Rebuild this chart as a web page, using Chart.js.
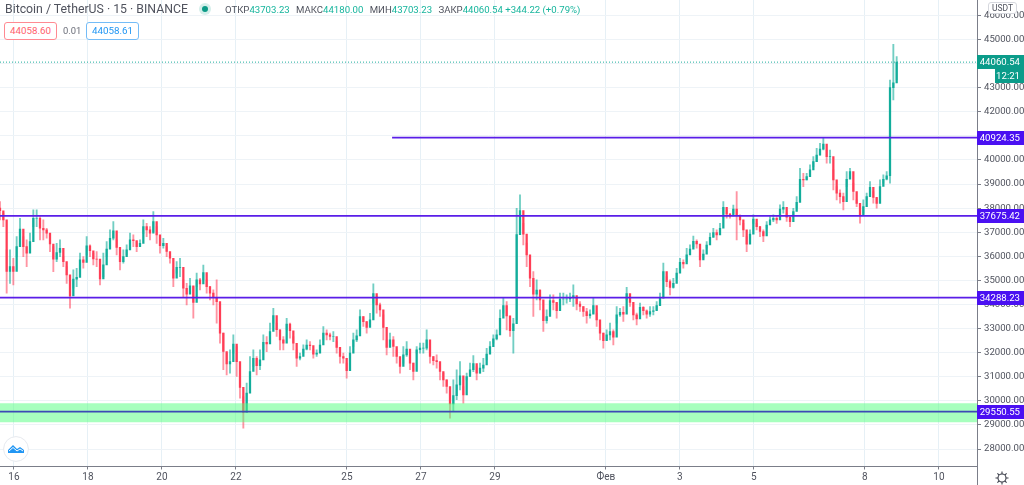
<!DOCTYPE html>
<html>
<head>
<meta charset="utf-8">
<script src="https://cdn.jsdelivr.net/npm/chart.js"></script>
<style>
  html, body { margin: 0; padding: 0; background: #fff; overflow: hidden; }
  #wrap { position: relative; width: 1024px; height: 485px; font-family: Roboto, sans-serif; }
  canvas { position: absolute; left: 0; top: 0; }
  .abs { position: absolute; white-space: nowrap; }
  #title { left: 5px; top: 2px; font-size: 12.3px; line-height: 15px; color: #50535e; }
  #dot { left: 202px; top: 6px; width: 6px; height: 6px; border-radius: 50%; background: #0c9a87; box-shadow: 0 0 0 3px #d5efeb; }
  #ohlc { left: 225px; top: 4px; font-size: 9.6px; line-height: 12px; color: #17b59d; }
  #ohlc b { font-weight: 400; color: #50535e; margin-left: 4px; }
  #ohlc b:first-child { margin-left: 0; }
  .quote { top: 22px; height: 16px; line-height: 16px; border-radius: 3px; font-size: 9.8px; text-align: center; background: #fff; }
  #bid { left: 4px; width: 51px; border: 1px solid #ff8a92; color: #ff5f6d; }
  #spread { left: 63px; top: 23px; font-size: 9.4px; color: #6a6d78; line-height: 16px; }
  #ask { left: 86px; width: 51px; border: 1px solid #74bcf7; color: #2196f3; }
  #unit { left: 988px; top: 2px; width: 27px; height: 10px; line-height: 10px; border: 1px solid #d6d8de; border-radius: 3px; background: #fff; font-size: 8.5px; text-align: center; color: #50535e; }
  #logo { left: 3px; top: 436px; }
  #gear { left: 995px; top: 471px; }
</style>
</head>
<body>
<div id="wrap">
  <canvas id="chart" width="1024" height="485"></canvas>
  <div class="abs" id="title">Bitcoin / TetherUS · 15 · BINANCE</div>
  <div class="abs" id="dot"></div>
  <div class="abs" id="ohlc"><b>ОТКР</b>43703.23 <b>МАКС</b>44180.00 <b>МИН</b>43703.23 <b>ЗАКР</b>44060.54 +344.22 (+0.79%)</div>
  <div class="abs quote" id="bid">44058.60</div>
  <div class="abs" id="spread">0.01</div>
  <div class="abs quote" id="ask">44058.61</div>
  <div class="abs" id="unit">USDT</div>
  <svg class="abs" id="logo" width="26" height="26" viewBox="0 0 26 26">
    <circle cx="13" cy="13" r="12.4" fill="#fff" stroke="#e6e9ee" stroke-width="1"/>
    <path d="M5 17 L5 14 L10 9 L14 13 L17 11 L21 14 L21 17 Z" fill="#2196f3"/>
    <path d="M6 15 L10 11.5 L14 15 L17 13 L20 15" fill="none" stroke="#fff" stroke-width="1"/>
  </svg>
  <svg class="abs" id="gear" width="14" height="14" viewBox="0 0 14 14">
    <circle cx="7" cy="7" r="4" fill="none" stroke="#3c3f4a" stroke-width="1.1"/>
    <path d="M7 0.5V3 M7 11V13.5 M0.5 7H3 M11 7H13.5 M2.4 2.4L4.2 4.2 M9.8 9.8L11.6 11.6 M2.4 11.6L4.2 9.8 M9.8 4.2L11.6 2.4" stroke="#3c3f4a" stroke-width="1.1"/>
  </svg>
</div>
<script>
// Candles, about two hours each
const firstCandleDay = -0.378;
const candleStepDays = 0.0901;
const firstOpen = 38000;

const candleHighs = [
  38270,37790,36265,36265,35920,36820,37580,36820,36680,36960,37925,37925,37650,37510,37165,36820,36405,36540,36680,35990,
  35575,34880,35435,35505,36130,35990,36820,36475,36130,36195,35300,36130,36610,37095,37440,36680,36130,36265,36475,36960,
  36890,36610,36680,37510,37370,37235,37855,37235,36750,36750,36405,36130,35435,35780,35920,35020,34880,35090,34745,35300,
  35090,35640,35020,34745,34605,35020,33225,32810,31980,32115,32740,32255,31010,30180,30735,31840,32115,31840,
  32115,32740,32670,33225,33845,33225,32945,32670,33430,33225,32670,32115,31980,32325,32530,32460,32115,32115,32530,33085,
  32945,32810,32875,32460,32115,31980,31565,32255,32810,32945,33775,33500,33290,33635,34855,34330,34055,33570,32530,32810,
  32670,32115,31700,32255,32460,31840,31565,32255,32395,32395,32945,32115,31840,31910,31565,31150,30870,30455,30870,31285,
  31630,30595,31150,31565,31880,31425,31565,31770,32185,32460,32740,32945,33775,34260,34120,33155,33430,37995,
  38550,37370,36545,35435,35365,35020,34605,33775,33775,34400,34400,34055,34470,34470,34400,34470,34815,34260,34120,33915,
  33845,33775,34260,33640,33085,32810,32945,33225,32945,33915,33845,33915,34715,34260,33775,33640,34055,33915,33775,33915,
  33915,34120,34470,35715,35160,35020,35090,35505,35920,35850,36335,36475,36845,36680,36130,36265,36610,36960,37165,37095,
  37370,38270,37925,37785,38130,38690,37720,37370,36820,37095,37720,37370,37235,37095,37440,37650,37720,37650,
  38135,38275,37790,37650,37995,38480,39655,39450,39450,39795,40140,40485,40690,40900,40415,40415,39585,38895,38755,38620,
  39520,39655,39035,38340,38065,38340,38620,39105,38690,38410,39170,39380,39520,43320,44800,44290
];
const candleLows = [
  37510,37230,34470,34880,34815,35990,36680,35990,35575,36265,37230,37230,36680,36680,36750,36195,35365,35780,35990,35575,
  34880,33845,34675,34745,35575,35505,36060,35990,35645,35575,34815,35160,35990,36405,36680,36060,35435,35715,36060,36405,
  36405,36195,36405,36955,36820,36680,37025,36540,36130,36335,35990,35715,34745,35300,35160,34330,33985,34470,33430,34745,
  34605,35020,34470,34190,33985,33225,32395,31290,31080,31150,31980,31010,30110,28865,29905,30595,31425,31080,
  31290,32115,32045,32530,33225,32670,32115,32115,32945,32600,32115,31425,31700,31980,32115,32115,31770,31840,32115,32530,
  32530,32530,32460,31980,31565,31565,30940,31700,32255,32460,33225,33085,32810,33085,34055,33640,33500,32530,31910,32255,
  31840,31565,31150,31565,31840,31290,30870,31980,31980,31980,32115,31565,31495,31355,30870,30595,30320,29280,29560,30045,
  30455,29905,30870,31010,31215,30870,31150,31215,31700,32045,32395,32530,33085,33640,32945,32670,31980,33360,
  37235,36475,35575,34745,33500,34190,33775,32880,33225,33915,33775,33430,33985,33985,34055,34120,33915,33775,33710,33500,
  33225,33430,33640,33085,32530,32190,32530,32530,32325,33225,33500,33295,34190,33915,33360,33155,33710,33570,33430,33500,
  33570,33775,34055,35020,34745,34400,34675,35090,35575,35505,35780,36130,36405,36335,35575,35920,36335,36610,36820,36680,
  36960,37785,37580,37580,37785,36680,37305,36820,36195,36750,37370,37095,36820,36610,37165,37370,37440,37370,
  37790,37790,37445,37235,37720,37995,38760,38895,39170,39380,39725,39930,40210,40415,39865,39865,38755,38340,38205,37925,
  38895,39380,38340,38065,37375,37790,38340,38620,38205,38000,38620,39035,39170,39035,42490,43320
];
const candleCloses = [
  37890,37510,35370,35570,35370,36400,37130,36400,36130,36610,37580,37580,37165,37095,36960,36510,35885,36160,36335,35780,
  35230,34360,35055,35125,35850,35750,36440,36230,35890,35885,35060,35645,36300,36750,37060,36370,35780,35990,36270,36680,
  36650,36400,36540,37230,37095,36960,37440,36890,36440,36540,36200,35920,35090,35540,35540,34675,34430,34780,34090,35020,
  34850,35330,34745,34470,34295,34120,32810,32050,31530,31630,32360,31630,30560,29520,30320,31220,31770,31460,
  31700,32430,32360,32880,33535,32950,32530,32390,33190,32910,32390,31770,31840,32150,32320,32290,31940,31980,32320,32810,
  32740,32670,32670,32220,31840,31770,31250,31980,32530,32700,33500,33290,33050,33360,34455,33985,33780,33050,32220,32530,
  32255,31840,31425,31910,32150,31565,31220,32120,32190,32190,32530,31840,31670,31630,31220,30870,30595,29870,30215,30665,
  31040,30250,31010,31290,31550,31150,31360,31490,31940,32250,32570,32740,33430,33950,33530,32910,33200,36900,
  37900,36920,36060,35090,34430,34600,34190,33330,33500,34160,34090,33740,34230,34230,34230,34300,34365,34020,33915,33710,
  33535,33600,33950,33360,32810,32500,32740,32880,32640,33570,33670,33600,34450,34090,33570,33400,33880,33740,33600,33710,
  33740,33950,34260,35370,34950,34710,34880,35300,35750,35680,36060,36300,36625,36510,35850,36090,36470,36785,36990,36890,
  37165,38030,37750,37680,37960,37700,37510,37100,36500,36920,37545,37230,37030,36850,37300,37510,37580,37510,
  37960,38030,37620,37440,37860,38240,39200,39170,39310,39590,39930,40200,40450,40660,40140,40140,39170,38620,38480,38270,
  39200,39520,38690,38200,37710,38065,38480,38860,38450,38200,38900,39200,39345,43000,43200,44060
];

// Axes
const priceTicks = [28000,29000,30000,31000,32000,33000,34000,35000,36000,37000,38000,39000,40000,41000,42000,43000,44000,45000,46000];
const dayTicks = [0,2,4,6,9,11,13,16,18,20,23,25];
const dayTickLabels = ['16','18','20','22','25','27','29','Фев','3','5','8','10'];
const axisMinDay = -0.378;
const axisMaxDay = 26.03;
const axisMinPrice = 27275;
const axisMaxPrice = 46640;

// Drawn levels and the zone
const levelPrices = [40924.35, 37675.42, 34288.23, 29550.55];
const levelLabels = ['40924.35', '37675.42', '34288.23', '29550.55'];
const levelStartDays = [10.22, axisMinDay, axisMinDay, axisMinDay];
const levelColors = ['#5a1ee8', '#5a1ee8', '#5a1ee8', '#3c49b6'];
const zoneTop = 29904;
const zoneBottom = 29116;
const lastPrice = 44060.54;
const lastPriceLabel = '44060.54';
const countdownLabel = '12:21';

const UP = '#12ad9b';
const DOWN = '#ff3d55';
const UP_WICK = 'rgba(18,173,155,0.6)';
const DOWN_WICK = 'rgba(255,61,85,0.55)';

const candleDays = candleCloses.map((_, i) => firstCandleDay + i * candleStepDays);
const candleOpens = candleCloses.map((_, i) => (i ? candleCloses[i - 1] : firstOpen));
const isUp = candleCloses.map((c, i) => c >= candleOpens[i]);

const axisTags = {
  id: 'axisTags',
  afterDraw(chart) {
    const { ctx, chartArea, scales } = chart;
    const tag = (text, price, color, left, dy) => {
      const y = Math.round(scales.y.getPixelForValue(price)) + dy;
      ctx.fillStyle = color;
      ctx.fillRect(left, y - 7, 1024 - left, 14);
      ctx.fillStyle = '#fff';
      ctx.font = '9.6px Roboto';
      ctx.textBaseline = 'middle';
      ctx.textAlign = 'right';
      ctx.fillText(text, 1020, y + 0.5);
    };
    ctx.save();
    // price axis runs down through the time axis row
    ctx.strokeStyle = '#7b7e89';
    ctx.lineWidth = 1;
    ctx.beginPath();
    ctx.moveTo(chartArea.right + 0.5, 0);
    ctx.lineTo(chartArea.right + 0.5, 485);
    ctx.stroke();
    levelPrices.forEach((p, i) => tag(levelLabels[i], p, '#4a10f2', chartArea.right, 0));
    tag(lastPriceLabel, lastPrice, '#0b9c8a', chartArea.right, 0);
    tag(countdownLabel, lastPrice, '#0b9c8a', 995, 14);
    ctx.restore();
  }
};

const levelDatasets = levelPrices.map((p, i) => ({
  type: 'line',
  data: [{ x: levelStartDays[i], y: p }, { x: axisMaxDay, y: p }],
  borderColor: levelColors[i],
  borderWidth: 1.8,
  pointRadius: 0,
  order: 1
}));

new Chart(document.getElementById('chart'), {
  data: {
    datasets: [
      {
        type: 'bar',
        data: candleDays.map((d, i) => ({ x: d, y: [candleLows[i], candleHighs[i]] })),
        backgroundColor: isUp.map(u => (u ? UP_WICK : DOWN_WICK)),
        barThickness: 1.2,
        grouped: false,
        order: 5
      },
      {
        type: 'bar',
        data: candleDays.map((d, i) => ({ x: d, y: [candleOpens[i], candleCloses[i]] })),
        backgroundColor: isUp.map(u => (u ? UP : DOWN)),
        barThickness: 1.6,
        grouped: false,
        order: 4
      },
      {
        type: 'line',
        data: [{ x: axisMinDay, y: zoneTop }, { x: axisMaxDay, y: zoneTop }],
        borderWidth: 0,
        pointRadius: 0,
        fill: { value: zoneBottom },
        backgroundColor: 'rgba(80,255,125,0.5)',
        order: 3
      },
      {
        type: 'line',
        data: [{ x: axisMinDay, y: lastPrice }, { x: axisMaxDay, y: lastPrice }],
        borderColor: '#1fae9c',
        borderWidth: 1,
        borderDash: [1, 2],
        pointRadius: 0,
        order: 2
      },
      ...levelDatasets
    ]
  },
  options: {
    responsive: false,
    animation: false,
    devicePixelRatio: 1,
    layout: { padding: 0 },
    plugins: { legend: { display: false }, tooltip: { enabled: false } },
    scales: {
      x: {
        type: 'linear',
        offset: false,
        min: axisMinDay,
        max: axisMaxDay,
        afterFit(scale) {
          scale.height = 18.5;
          scale.paddingLeft = 0;
          scale.paddingRight = 0;
        },
        afterBuildTicks(scale) { scale.ticks = dayTicks.map(value => ({ value })); },
        border: { color: '#7b7e89', width: 1 },
        grid: { offset: false, color: '#e6f0f6', tickColor: '#7b7e89', tickLength: 3 },
        ticks: {
          autoSkip: false,
          maxRotation: 0,
          padding: 2,
          color: '#50535e',
          font: { family: 'Roboto', size: 10 },
          callback: value => dayTickLabels[dayTicks.indexOf(value)]
        }
      },
      y: {
        type: 'linear',
        position: 'right',
        min: axisMinPrice,
        max: axisMaxPrice,
        afterFit(scale) {
          scale.width = 47;
          scale.paddingTop = 0;
          scale.paddingBottom = 0;
        },
        afterBuildTicks(scale) { scale.ticks = priceTicks.map(value => ({ value })); },
        border: { color: '#7b7e89', width: 1 },
        grid: { color: '#eef3f7', tickColor: '#7b7e89', tickLength: 4 },
        ticks: {
          padding: 3,
          color: '#50535e',
          font: { family: 'Roboto', size: 9.6 },
          callback: value => value.toFixed(2)
        }
      }
    }
  },
  plugins: [axisTags]
});
</script>
</body>
</html>
